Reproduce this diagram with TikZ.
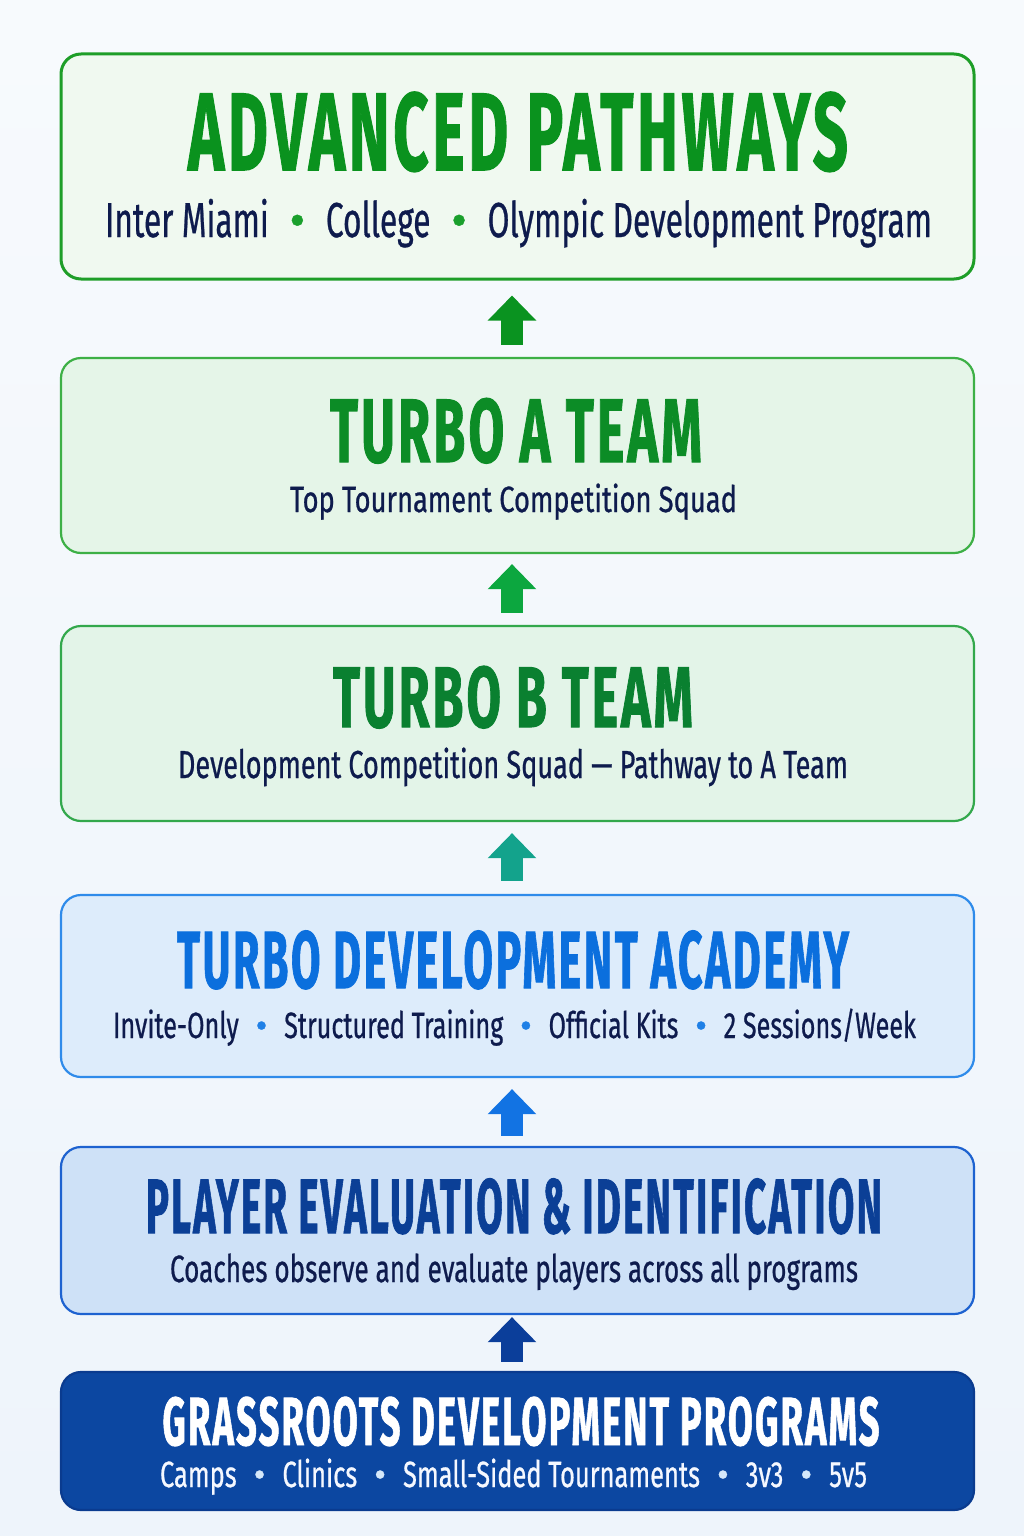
\documentclass[tikz,border=0pt]{standalone}
\usepackage{fontspec}
\usepackage{graphicx}
\usetikzlibrary{arrows.meta}
\newfontfamily\titlefont{Fira Sans}[BoldFeatures={FakeBold=1.4,LetterSpace=6}]
\newfontfamily\subfont{Fira Sans}[FakeBold=0.8]
\definecolor{bgtop}{HTML}{F7FAFD}
\definecolor{bgbot}{HTML}{EEF4FB}
\definecolor{navy}{HTML}{0E1B4D}
\definecolor{f1}{HTML}{F0F9F0}\definecolor{d1}{HTML}{1E9E28}\definecolor{c1}{HTML}{0A921E}\definecolor{u1}{HTML}{1AA02C}
\definecolor{f2}{HTML}{E5F5E8}\definecolor{d2}{HTML}{3DB046}\definecolor{c2}{HTML}{0C8C26}
\definecolor{f3}{HTML}{E3F4E8}\definecolor{d3}{HTML}{33A84C}\definecolor{c3}{HTML}{0A8030}
\definecolor{f4}{HTML}{DDECFB}\definecolor{d4}{HTML}{2F8BEA}\definecolor{c4}{HTML}{0B6FDD}\definecolor{u4}{HTML}{1F80E6}
\definecolor{f5}{HTML}{CEE1F7}\definecolor{d5}{HTML}{1D62D0}\definecolor{c5}{HTML}{0B3F96}
\definecolor{f6}{HTML}{0C47A1}\definecolor{d6}{HTML}{0A3B8F}\definecolor{s6}{HTML}{F5F8FF}\definecolor{u6}{HTML}{D5E8FA}
\definecolor{a1}{HTML}{0A9320}\definecolor{a2}{HTML}{0CA73F}\definecolor{a3}{HTML}{13A38C}
\definecolor{a4}{HTML}{1273E3}\definecolor{a5}{HTML}{0B3E9A}
\newlength\natw
\newcommand\bulscale{1}
\newcommand\bul[1]{\makebox[1.8em]{\textcolor{#1}{\scalebox{\bulscale}[1]{\textbullet}}}}
\newcommand\fitline[2]{\settowidth\natw{#2}\pgfmathsetmacro\fitf{#1/\natw}\pgfmathsetmacro\bulscale{1/\fitf}\scalebox{\fitf}[1]{#2}}
\tikzset{
  box/.style={rectangle, rounded corners=20pt, line width=2.2pt, minimum width=913pt, inner sep=0pt},
  ttl/.style={anchor=base, inner sep=0pt},
  sbt/.style={anchor=base, inner sep=0pt, text=navy},
  blk/.style={line width=22pt, -{Triangle[width=47pt,length=25pt]}},
}
\begin{document}
\begin{tikzpicture}[x=1pt,y=-1pt]
\shade[top color=bgtop, bottom color=bgbot] (0,0) rectangle (1024,1536);
\useasboundingbox (0,0) rectangle (1024,1536);
% boxes
\node[box, fill=f1, draw=d1, line width=3pt, minimum height=225pt] (b1) at (517.5,166.5) {};
\node[box, fill=f2, draw=d2, minimum height=195pt] (b2) at (517.5,455.5) {};
\node[box, fill=f3, draw=d3, minimum height=195pt] (b3) at (517.5,723.5) {};
\node[box, fill=f4, draw=d4, minimum height=182pt] (b4) at (517.5,986) {};
\node[box, fill=f5, draw=d5, minimum height=167pt] (b5) at (517.5,1230.5) {};
\node[box, fill=f6, draw=d6, minimum height=138pt] (b6) at (517.5,1441) {};
% titles
\node[ttl, text=c1, font=\titlefont\bfseries\fontsize{110}{110}\selectfont] (t1) at (518,170) {\fitline{660}{ADVANCED PATHWAYS}};
\node[ttl, text=c2, font=\titlefont\bfseries\fontsize{90}{90}\selectfont] (t2) at (516,462) {\fitline{372}{TURBO A TEAM}};
\node[ttl, text=c3, font=\titlefont\bfseries\fontsize{86}{86}\selectfont] (t3) at (513,727) {\fitline{360}{TURBO B TEAM}};
\node[ttl, text=c4, font=\titlefont\bfseries\fontsize{81}{81}\selectfont] (t4) at (513,988) {\fitline{672}{TURBO DEVELOPMENT ACADEMY}};
\node[ttl, text=c5, font=\titlefont\bfseries\fontsize{77}{77}\selectfont] (t5) at (514,1233) {\fitline{736}{PLAYER EVALUATION \& IDENTIFICATION}};
\node[ttl, text=white, font=\titlefont\bfseries\fontsize{68}{68}\selectfont] (t6) at (521,1445) {\fitline{717}{GRASSROOTS DEVELOPMENT PROGRAMS}};
% subtitles
\node[sbt, font=\subfont\fontsize{49}{49}\selectfont] (s1) at (518.5,237) {\fitline{827}{Inter Miami\bul{u1}College\bul{u1}Olympic Development Program}};
\node[sbt, font=\subfont\fontsize{36.5}{36.5}\selectfont] (s2) at (513.5,512) {\fitline{447}{Top Tournament Competition Squad}};
\node[sbt, font=\subfont\fontsize{39}{39}\selectfont] (s3) at (513,778) {\fitline{670}{Development Competition Squad — Pathway to A Team}};
\node[sbt, font=\subfont\fontsize{36.5}{36.5}\selectfont] (s4) at (514.5,1038) {\fitline{803}{Invite-Only\bul{u4}Structured Training\bul{u4}Official Kits\bul{u4}2 Sessions/Week}};
\node[sbt, font=\subfont\fontsize{38}{38}\selectfont] (s5) at (514,1282) {\fitline{688}{Coaches observe and evaluate players across all programs}};
\node[sbt, text=s6, font=\subfont\fontsize{36.5}{36.5}\selectfont] (s6) at (513.5,1487) {\fitline{707}{Camps\bul{u6}Clinics\bul{u6}Small-Sided Tournaments\bul{u6}3v3\bul{u6}5v5}};
% arrows
\draw[blk, draw=a1, shorten <=12pt, shorten >=15pt] ([xshift=-5.5pt]b2.north) -- ([xshift=-5.5pt]b1.south);
\draw[blk, draw=a2, shorten <=12pt, shorten >=10pt] ([xshift=-5.5pt]b3.north) -- ([xshift=-5.5pt]b2.south);
\draw[blk, draw=a3, shorten <=13pt, shorten >=11pt] ([xshift=-5.5pt]b4.north) -- ([xshift=-5.5pt]b3.south);
\draw[blk, draw=a4, shorten <=10pt, shorten >=11pt] ([xshift=-5.5pt]b5.north) -- ([xshift=-5.5pt]b4.south);
\draw[blk, draw=a5, shorten <=9pt, shorten >=2pt] ([xshift=-5.5pt]b6.north) -- ([xshift=-5.5pt]b5.south);
\end{tikzpicture}
\end{document}
